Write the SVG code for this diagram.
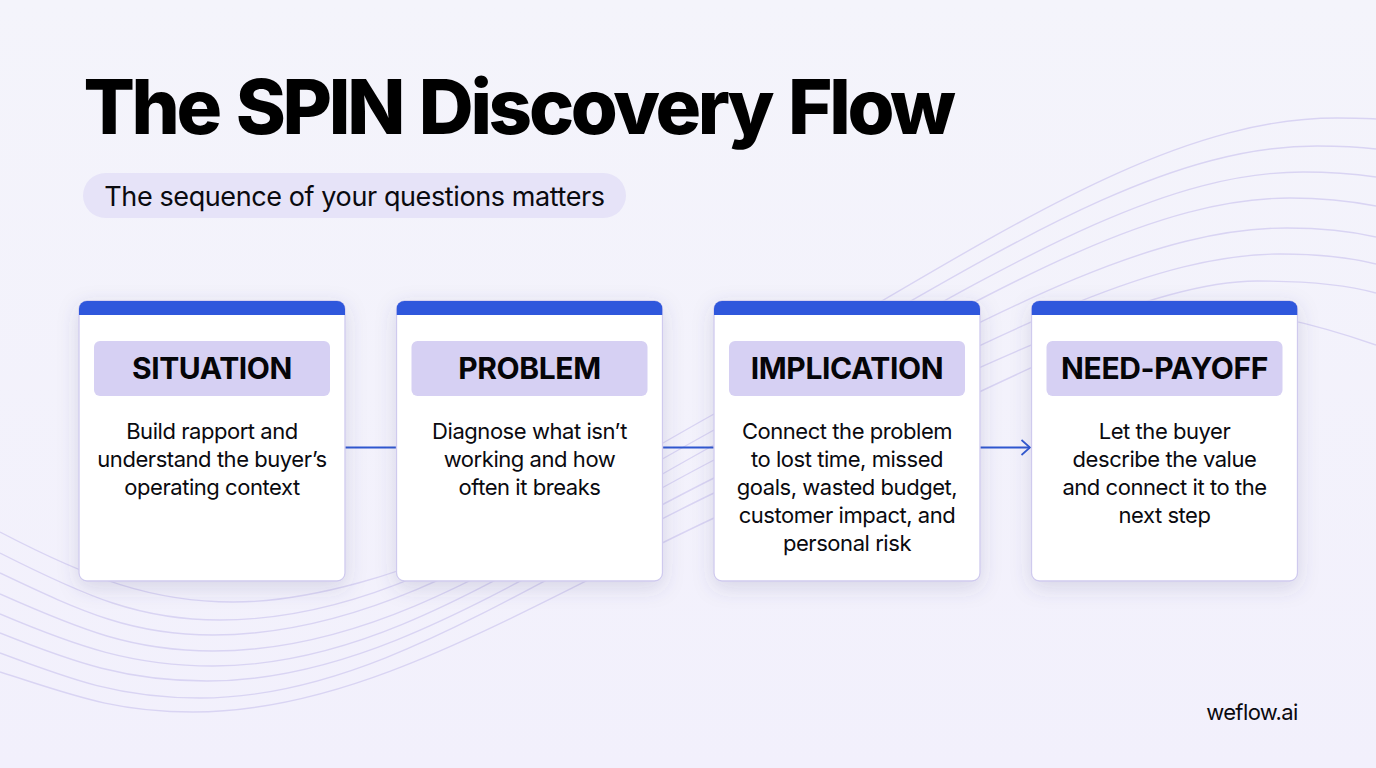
<svg xmlns="http://www.w3.org/2000/svg" width="1376" height="768" viewBox="0 0 1376 768">
<defs>
<linearGradient id="bg" x1="0" y1="0" x2="0" y2="1"><stop offset="0" stop-color="#f4f4fb"/><stop offset="1" stop-color="#f2f0fc"/></linearGradient>
<filter id="sh" x="-15%" y="-15%" width="130%" height="135%"><feDropShadow dx="0" dy="6" stdDeviation="10" flood-color="#4a4580" flood-opacity="0.17"/></filter>
<clipPath id="barclip"><rect x="0" y="0" width="266" height="60" rx="8"/></clipPath>
<marker id="arrow" markerUnits="userSpaceOnUse" markerWidth="14" markerHeight="20" refX="11" refY="10" orient="auto"><path d="M2.500 2.500L11 10L2.500 17.500" fill="none" stroke="#2f57d0" stroke-width="1.700"/></marker>
</defs>
<style>
text{font-family:Inter,"Liberation Sans",sans-serif;fill:#0a0a0f;text-anchor:middle}
.wave path{fill:none;stroke:#d9d4f3;stroke-width:1.4}
.card{fill:#fff;stroke:#cfcaee;stroke-width:1.3;filter:url(#sh)}
.bar{fill:#2f57dc}
.tag{fill:#d6d0f3}
.lab{font-size:30px;font-weight:700;letter-spacing:-.38px;fill:#050508}
.body{font-size:22px;letter-spacing:-.45px}
.conn{fill:none;stroke:#2f57d0;stroke-width:1.8}
</style>
<rect width="1376" height="768" fill="url(#bg)"/>
<g class="wave">
<path d="M0 532C90 579 153 602 233 602C300 602 410 578 510 520"/>
<path d="M730 389C974 252 1157 118 1337 118C1350 118 1365 118 1376 119"/>
<path d="M0 553C87 597 140 620 220 620C390 620 524 520 714 414C974 268 1147 146 1317 146C1340 146 1360 147 1376 149"/>
<path d="M0 573C84 613 133 635 213 635C383 635 524 535 714 430C974 287 1143 172 1303 172C1330 172 1355 174 1376 177"/>
<path d="M0 594C81 630 133 651 213 651C383 651 524 550 714 445C974 302 1140 198 1290 198C1320 198 1350 201 1376 206"/>
<path d="M0 614C78 647 133 666 213 666C383 666 524 559 714 460C974 325 1137 228 1287 228C1317 228 1350 231 1376 237"/>
<path d="M0 633C75 663 127 681 207 681C377 681 524 573 714 478C974 348 1140 254 1280 254C1315 254 1348 257 1376 264"/>
<path d="M0 653C72 680 120 698 200 698C370 698 524 584 714 493C974 368 1150 281 1257 281C1300 281 1340 283 1376 293"/>
<path d="M0 672C70 694 113 712 193 712C363 712 524 607 714 518C974 396 1140 308 1200 308C1245 308 1310 322 1376 345"/>
</g>
<text x="518" y="134" style="font-size:76px;font-weight:800;letter-spacing:-3.3px;word-spacing:3.4px;fill:#000">The SPIN Discovery Flow</text>
<rect x="83" y="173" width="543" height="45" rx="22.500" fill="#e6e3f8"/>
<text x="354.500" y="206" style="font-size:27px;letter-spacing:-.4px">The sequence of your questions matters</text>
<g id="connectors">
<path class="conn" d="M345 447.500H396"/>
<path class="conn" d="M662 447.500H714"/>
<path class="conn" d="M980 447.500H1030" marker-end="url(#arrow)"/>
</g>
<g id="node-situation" transform="translate(79 301)">
<rect class="card" width="266" height="280" rx="8"/>
<rect class="bar" width="266" height="14" clip-path="url(#barclip)"/>
<rect class="tag" x="15" y="40" width="236" height="55" rx="6"/>
<text class="lab" x="133" y="78">SITUATION</text>
<text class="body" x="133" y="138">Build rapport and</text>
<text class="body" x="133" y="166">understand the buyer’s</text>
<text class="body" x="133" y="194">operating context</text>
</g>
<g id="node-problem" transform="translate(396.500 301)">
<rect class="card" width="266" height="280" rx="8"/>
<rect class="bar" width="266" height="14" clip-path="url(#barclip)"/>
<rect class="tag" x="15" y="40" width="236" height="55" rx="6"/>
<text class="lab" x="133" y="78">PROBLEM</text>
<text class="body" x="133" y="138">Diagnose what isn’t</text>
<text class="body" x="133" y="166">working and how</text>
<text class="body" x="133" y="194">often it breaks</text>
</g>
<g id="node-implication" transform="translate(714 301)">
<rect class="card" width="266" height="280" rx="8"/>
<rect class="bar" width="266" height="14" clip-path="url(#barclip)"/>
<rect class="tag" x="15" y="40" width="236" height="55" rx="6"/>
<text class="lab" x="133" y="78">IMPLICATION</text>
<text class="body" x="133" y="138">Connect the problem</text>
<text class="body" x="133" y="166">to lost time, missed</text>
<text class="body" x="133" y="194">goals, wasted budget,</text>
<text class="body" x="133" y="222">customer impact, and</text>
<text class="body" x="133" y="250">personal risk</text>
</g>
<g id="node-need-payoff" transform="translate(1031.500 301)">
<rect class="card" width="266" height="280" rx="8"/>
<rect class="bar" width="266" height="14" clip-path="url(#barclip)"/>
<rect class="tag" x="15" y="40" width="236" height="55" rx="6"/>
<text class="lab" x="133" y="78">NEED-PAYOFF</text>
<text class="body" x="133" y="138">Let the buyer</text>
<text class="body" x="133" y="166">describe the value</text>
<text class="body" x="133" y="194">and connect it to the</text>
<text class="body" x="133" y="222">next step</text>
</g>
<text x="1252" y="720" style="font-size:22px;letter-spacing:-.6px">weflow.ai</text>
</svg>
